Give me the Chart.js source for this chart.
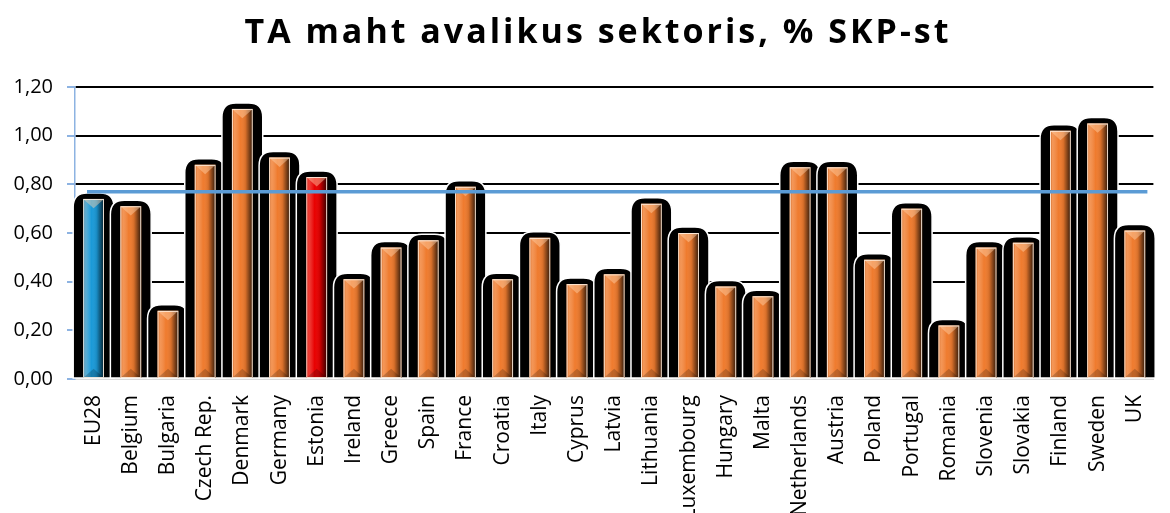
<!DOCTYPE html>
<html lang="et">
<head>
<meta charset="utf-8">
<title>TA maht avalikus sektoris</title>
<script src="https://cdn.jsdelivr.net/npm/chart.js@4.4.0/dist/chart.umd.min.js"></script>
<style>
    html, body { margin: 0; padding: 0; background: #fff; overflow: hidden; }
    #chart { display: block; }
</style>
</head>
<body>
<canvas id="chart" width="1176" height="513"></canvas>
<script>
// Chart data
const chartTitle = "TA maht avalikus sektoris, % SKP-st";
const countries = ["EU28", "Belgium", "Bulgaria", "Czech Rep.", "Denmark", "Germany", "Estonia", "Ireland",
    "Greece", "Spain", "France", "Croatia", "Italy", "Cyprus", "Latvia", "Lithuania", "Luxembourg",
    "Hungary", "Malta", "Netherlands", "Austria", "Poland", "Portugal", "Romania", "Slovenia",
    "Slovakia", "Finland", "Sweden", "UK"];
const rdShare = [0.74, 0.71, 0.28, 0.88, 1.11, 0.91, 0.83, 0.41, 0.54, 0.57, 0.79, 0.41, 0.58, 0.39, 0.43,
    0.72, 0.60, 0.38, 0.34, 0.87, 0.87, 0.49, 0.70, 0.22, 0.54, 0.56, 1.02, 1.05, 0.61];
const referenceLine = [0.77];
const yTicks = [0, 0.2, 0.4, 0.6, 0.8, 1.0, 1.2];

const barColors = countries.map(c => c === "EU28" ? "#1b9ad8" : c === "Estonia" ? "#e80000" : "#ef7b2e");

// Title drawn by hand so it can be letter-spaced
const spacedTitle = {
    id: "spacedTitle",
    afterDraw(chart) {
        const ctx = chart.ctx;
        ctx.save();
        ctx.font = "bold 34px 'Open Sans', sans-serif";
        ctx.letterSpacing = "3px";
        ctx.fillStyle = "#000";
        ctx.textAlign = "center";
        ctx.textBaseline = "middle";
        ctx.fillText(chartTitle, 598, 33);
        ctx.restore();
    }
};

// Black rounded "shadow" behind each bar, shading on top, reference line
const barShadow = {
    id: "barShadow",
    beforeDatasetsDraw(chart) {
        const ctx = chart.ctx;
        chart.getDatasetMeta(0).data.forEach(bar => {
            const { x, y, base, width } = bar.getProps(["x", "y", "base", "width"], true);
            const left = x - width / 2 - 10, right = x + width / 2 + 10;
            const top = y - 6, r = 14;
            ctx.save();
            ctx.beginPath();
            ctx.moveTo(left, base);
            ctx.lineTo(left, top + r);
            ctx.quadraticCurveTo(left, top, left + r, top);
            ctx.lineTo(right - r, top);
            ctx.quadraticCurveTo(right, top, right, top + r);
            ctx.lineTo(right, base);
            ctx.closePath();
            ctx.fillStyle = "#000";
            ctx.fill();
            ctx.strokeStyle = "#fff";
            ctx.lineWidth = 1.5;
            ctx.stroke();
            ctx.restore();
        });
    },
    afterDatasetsDraw(chart) {
        const ctx = chart.ctx;
        chart.getDatasetMeta(0).data.forEach(bar => {
            const { x, y, base, width } = bar.getProps(["x", "y", "base", "width"], true);
            const left = x - width / 2, right = x + width / 2;
            ctx.save();
            const g = ctx.createLinearGradient(left, 0, right, 0);
            g.addColorStop(0, "rgba(120,60,30,0.25)");
            g.addColorStop(0.12, "rgba(255,215,185,0.3)");
            g.addColorStop(0.4, "rgba(255,255,255,0)");
            g.addColorStop(0.65, "rgba(0,0,0,0.1)");
            g.addColorStop(1, "rgba(0,0,0,0.8)");
            ctx.fillStyle = g;
            ctx.fillRect(left, y, width, base - y);
            // top bevel
            const h = Math.min(width * 0.45, (base - y) / 2);
            ctx.beginPath();
            ctx.moveTo(left, y);
            ctx.lineTo(right, y);
            ctx.lineTo(x, y + h);
            ctx.closePath();
            ctx.fillStyle = "rgba(255,210,170,0.45)";
            ctx.fill();
            // bottom bevel
            ctx.beginPath();
            ctx.moveTo(left, base);
            ctx.lineTo(right, base);
            ctx.lineTo(x, base - h);
            ctx.closePath();
            ctx.fillStyle = "rgba(0,0,0,0.2)";
            ctx.fill();
            // light rim
            ctx.strokeStyle = "rgba(255,240,225,0.9)";
            ctx.lineWidth = 1;
            ctx.strokeRect(left + 0.5, y + 0.5, width - 1, base - y - 1);
            ctx.restore();
        });

        const yPix = chart.scales.y.getPixelForValue(referenceLine[0]);
        ctx.save();
        ctx.strokeStyle = "#5b9bd5";
        ctx.lineWidth = 3.5;
        ctx.beginPath();
        ctx.moveTo(chart.chartArea.left + 12, yPix);
        ctx.lineTo(chart.chartArea.right - 6, yPix);
        ctx.stroke();
        ctx.restore();
    }
};

new Chart(document.getElementById("chart"), {
    type: "bar",
    data: {
        labels: countries,
        datasets: [{
            data: rdShare,
            backgroundColor: barColors,
            borderWidth: 0,
            categoryPercentage: 1,
            barPercentage: 0.56
        }]
    },
    options: {
        responsive: false,
        animation: false,
        devicePixelRatio: 1,
        layout: { padding: { left: 0, right: 0, top: 87, bottom: 0 } },
        plugins: {
            legend: { display: false },
            tooltip: { enabled: false },
            title: { display: false }
        },
        scales: {
            x: {
                grid: { display: false, drawTicks: false },
                border: { color: "#d9d9d9", width: 2 },
                ticks: {
                    color: "#000",
                    font: { family: "'Open Sans', sans-serif", size: 21 },
                    maxRotation: 90,
                    minRotation: 90,
                    autoSkip: false,
                    padding: 16
                },
                afterFit: scale => { scale.height = 134; }
            },
            y: {
                min: 0,
                max: 1.2,
                afterBuildTicks: scale => { scale.ticks = yTicks.map(v => ({ value: v })); },
                grid: {
                    color: c => c.tick && c.tick.value === 0 ? "#d9d9d9" : "#000",
                    lineWidth: 2,
                    tickColor: "#8db3e2",
                    tickLength: 8
                },
                border: { color: "#8db3e2", width: 1.5 },
                ticks: {
                    color: "#000",
                    font: { family: "'Open Sans', sans-serif", size: 20 },
                    padding: 14,
                    callback: v => v.toFixed(2).replace(".", ",")
                },
                afterFit: scale => { scale.width = 75; }
            }
        }
    },
    plugins: [barShadow, spacedTitle]
});
</script>
</body>
</html>
